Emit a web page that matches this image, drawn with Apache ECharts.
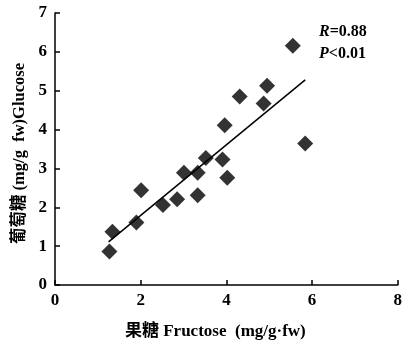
<!DOCTYPE html>
<html>
<head>
<meta charset="utf-8">
<script src="https://cdn.jsdelivr.net/npm/echarts@6/dist/echarts.min.js"></script>
<style>
html, body { margin: 0; padding: 0; background: #fff; }
#container { width: 405px; height: 345px; }
</style>
</head>
<body>
<div id="container"></div>
<script>
// 果糖 / 葡萄糖 (mg/g fw)
var fructose = [1.27, 1.34, 1.90, 2.01, 2.52, 2.85, 3.01, 3.33, 3.33, 3.52, 3.91, 4.02, 3.96, 4.31, 4.87, 4.95, 5.55, 5.84];
var glucose  = [0.86, 1.37, 1.61, 2.44, 2.06, 2.21, 2.89, 2.31, 2.89, 3.27, 3.23, 2.76, 4.11, 4.85, 4.67, 5.13, 6.16, 3.64];
// 回归线两端
var fitX = [1.25, 5.84];
var fitY = [1.11, 5.28];

var serif = '"Liberation Serif", "Noto Sans CJK SC", serif';

var points = fructose.map(function (x, i) { return [x, glucose[i]]; });
var fitLine = fitX.map(function (x, i) { return [x, fitY[i]]; });

var myChart = echarts.init(document.getElementById('container'));

var option = {
    animation: false,
    grid: { left: 55, right: 3, top: 13, bottom: 59 },
    xAxis: {
        type: 'value',
        min: 0, max: 8, interval: 2,
        name: '果糖 Fructose  (mg/g·fw)',
        nameLocation: 'middle',
        nameGap: 38,
        nameTextStyle: { fontFamily: serif, fontSize: 17, fontWeight: 'bold', color: '#000', padding: [0, 22, 0, 0] },
        axisLine: { lineStyle: { color: '#000', width: 1.5 } },
        axisTick: { inside: true, length: 5, lineStyle: { color: '#000', width: 1.5 } },
        axisLabel: { fontFamily: serif, fontSize: 17, fontWeight: 'bold', color: '#000', margin: 7 },
        splitLine: { show: false }
    },
    yAxis: {
        type: 'value',
        min: 0, max: 7, interval: 1,
        name: '葡萄糖 (mg/g  fw)Glucose',
        nameLocation: 'middle',
        nameGap: 27,
        nameTextStyle: { fontFamily: serif, fontSize: 16.5, fontWeight: 'bold', color: '#000', padding: [0, 9, 0, 0] },
        axisLine: { show: true, lineStyle: { color: '#000', width: 1.5 } },
        axisTick: { inside: true, length: 5, lineStyle: { color: '#000', width: 1.5 } },
        axisLabel: { fontFamily: serif, fontSize: 17, fontWeight: 'bold', color: '#000', margin: 8 },
        splitLine: { show: false }
    },
    graphic: [
        {
            type: 'text', left: 319, top: 21,
            style: {
                text: '{i|R}=0.88\n{i|P}<0.01',
                rich: {
                    i: { fontFamily: serif, fontSize: 16, fontStyle: 'italic', fontWeight: 'bold', fill: '#000' }
                },
                font: 'bold 16px "Liberation Serif", serif',
                fill: '#000',
                lineHeight: 22
            }
        }
    ],
    series: [
        {
            type: 'line',
            data: fitLine,
            symbol: 'none',
            lineStyle: { color: '#000', width: 1.5 },
            z: 1
        },
        {
            type: 'scatter',
            data: points,
            symbol: 'diamond',
            symbolSize: 16,
            itemStyle: { color: '#000' },
            z: 2
        }
    ]
};
myChart.setOption(option, true);
</script>
</body>
</html>
